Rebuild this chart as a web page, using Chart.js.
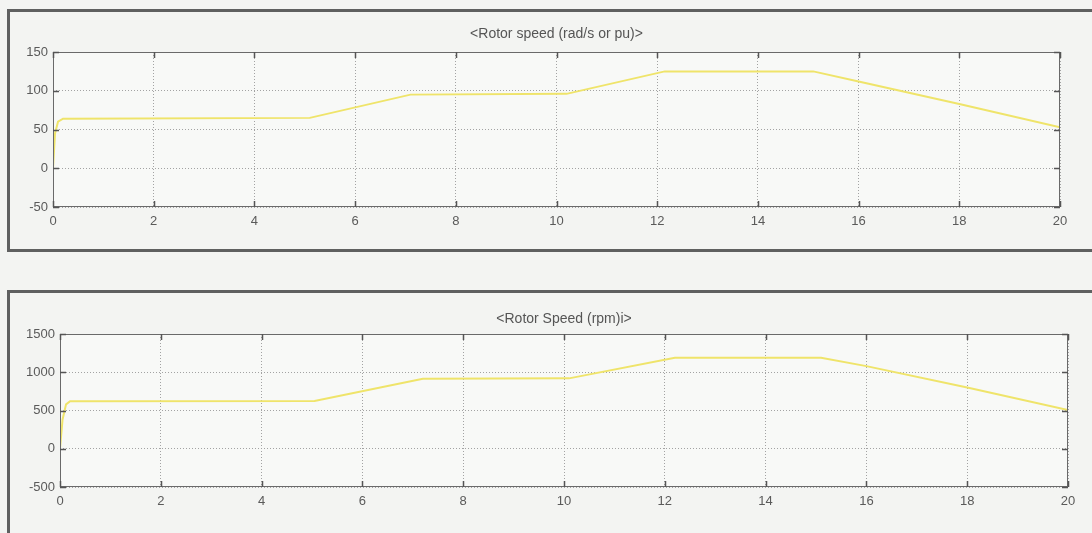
<!DOCTYPE html>
<html>
<head>
<meta charset="utf-8">
<script src="https://cdn.jsdelivr.net/npm/chart.js@4"></script>
<style>
  html, body { margin: 0; padding: 0; background: #f3f4f2; }
  body { width: 1092px; height: 533px; position: relative; overflow: hidden; }
  .frame { position: absolute; border: 3px solid #5f6060; box-sizing: border-box; }
  .wrap { position: absolute; left: 0; width: 1092px; }
</style>
</head>
<body>
<div class="frame" style="left:7px; top:9px; width:1100px; height:243px;"></div>
<div class="frame" style="left:7px; top:290px; width:1100px; height:260px;"></div>
<div class="wrap" style="top:0; height:250px;"><canvas id="c1"></canvas></div>
<div class="wrap" style="top:260px; height:273px;"><canvas id="c2"></canvas></div>
<script>
// ---- data ----
const timeTop = [0, 0.04, 0.1, 0.2, 5.1, 7.1, 10.2, 12.15, 15.1, 16, 18, 20];
const speedRad = [0, 45, 60, 64, 65, 95, 96, 125, 125, 112, 83, 53];
const timeBottom = [0, 0.05, 0.12, 0.2, 5.05, 7.2, 10.1, 12.2, 15.1, 16, 18, 20];
const speedRpm = [0, 380, 580, 620, 625, 915, 920, 1190, 1190, 1080, 800, 505];
const xTicks = [0, 2, 4, 6, 8, 10, 12, 14, 16, 18, 20];
const yTicksTop = [-50, 0, 50, 100, 150];
const yTicksBottom = [-500, 0, 500, 1000, 1500];
const titleTop = '<Rotor speed (rad/s or pu)>';
const titleBottom = '<Rotor Speed (rpm)i>';

const FONT = 'Liberation Sans, Arial, sans-serif';
const TEXT = '#5a5a5a';

const plotBg = {
  id: 'plotBg',
  beforeDraw(chart) {
    const {ctx, chartArea: a} = chart;
    ctx.save();
    ctx.fillStyle = '#f8f9f7';
    ctx.fillRect(a.left, a.top, a.right - a.left, a.bottom - a.top);
    ctx.restore();
  },
  afterDatasetsDraw(chart) {
    const {ctx, chartArea: a, scales} = chart;
    ctx.save();
    ctx.strokeStyle = '#6a6a6a';
    ctx.lineWidth = 1;
    ctx.strokeRect(a.left + 0.5, a.top + 0.5, a.right - a.left - 1, a.bottom - a.top - 1);
    ctx.lineWidth = 1.5;
    ctx.strokeStyle = '#555';
    const L = 6;
    scales.x.ticks.forEach(t => {
      const px = Math.round(scales.x.getPixelForValue(t.value)) + 0.5;
      ctx.beginPath();
      ctx.moveTo(px, a.bottom); ctx.lineTo(px, a.bottom - L);
      ctx.moveTo(px, a.top); ctx.lineTo(px, a.top + L);
      ctx.stroke();
    });
    scales.y.ticks.forEach(t => {
      const py = Math.round(scales.y.getPixelForValue(t.value)) + 0.5;
      ctx.beginPath();
      ctx.moveTo(a.left, py); ctx.lineTo(a.left + L, py);
      ctx.moveTo(a.right, py); ctx.lineTo(a.right - L, py);
      ctx.stroke();
    });
    ctx.restore();
  }
};

function makeChart(id, xs, ys, yTicks, title, opts) {
  const pts = xs.map((x, i) => ({x, y: ys[i]}));
  return new Chart(document.getElementById(id), {
    type: 'line',
    data: { datasets: [{
      data: pts,
      borderColor: '#efe46a',
      borderWidth: 2,
      pointRadius: 0,
      tension: 0,
      fill: false
    }]},
    options: {
      responsive: true,
      maintainAspectRatio: false,
      animation: false,
      events: [],
      layout: { padding: opts.padding },
      plugins: {
        legend: { display: false },
        tooltip: { enabled: false },
        title: {
          display: true,
          text: title,
          fullSize: false,
          color: '#555',
          font: { family: FONT, size: 14, weight: 'normal', lineHeight: 1 },
          padding: { top: 0, bottom: opts.titleGap }
        }
      },
      scales: {
        x: {
          type: 'linear',
          min: 0, max: 20,
          afterBuildTicks(s) { s.ticks = xTicks.map(v => ({value: v})); },
          afterFit(s) { s.height = 25; },
          border: { display: false, dash: [1, 2] },
          grid: { color: '#a3a3a3', lineWidth: 1, drawTicks: false },
          ticks: { color: TEXT, font: { family: FONT, size: 13 }, padding: 7, maxRotation: 0,
                   callback: v => String(v) }
        },
        y: {
          type: 'linear',
          min: yTicks[0], max: yTicks[yTicks.length - 1],
          afterBuildTicks(s) { s.ticks = yTicks.map(v => ({value: v})); },
          afterFit(s) { s.width = opts.yWidth; },
          border: { display: false, dash: [1, 2] },
          grid: { color: '#a3a3a3', lineWidth: 1, drawTicks: false },
          ticks: { color: TEXT, font: { family: FONT, size: 13 }, padding: 5,
                   callback: v => String(v) }
        }
      }
    },
    plugins: [plotBg]
  });
}

makeChart('c1', timeTop, speedRad, yTicksTop, titleTop,
  { padding: { left: 0, right: 32, top: 27, bottom: 18 }, titleGap: 11, yWidth: 53 });
makeChart('c2', timeBottom, speedRpm, yTicksBottom, titleBottom,
  { padding: { left: 0, right: 24, top: 52, bottom: 21 }, titleGap: 8, yWidth: 60 });
</script>
</body>
</html>
